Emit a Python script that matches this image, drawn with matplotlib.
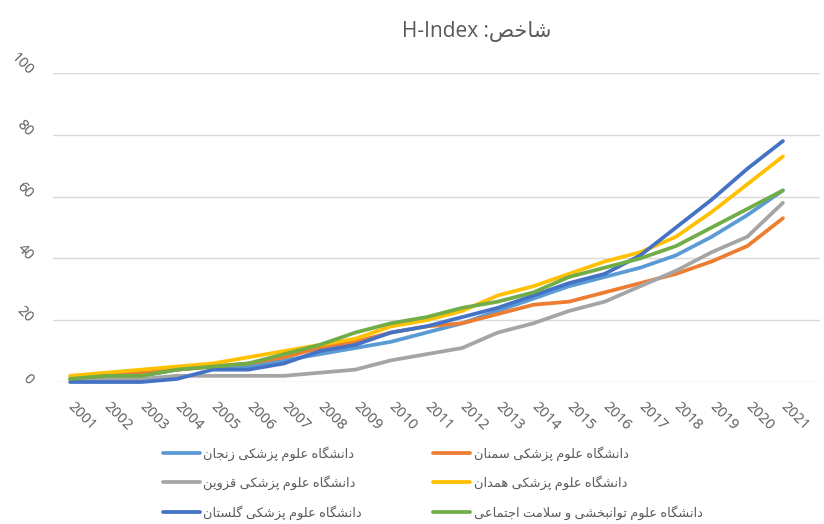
import matplotlib
matplotlib.use("Agg")
import matplotlib.pyplot as plt
from matplotlib.lines import Line2D

plt.rcParams['font.family'] = ['Open Sans', 'DejaVu Sans']

years = [str(y) for y in range(2001, 2022)]

zanjan   = [1, 2, 2, 4, 5, 5, 7, 9, 11, 13, 16, 19, 23, 27, 31, 34, 37, 41, 47, 54, 62]
semnan   = [1, 2, 3, 4, 5, 6, 8, 11, 13, 16, 18, 19, 22, 25, 26, 29, 32, 35, 39, 44, 53]
qazvin   = [1, 1, 1, 2, 2, 2, 2, 3, 4, 7, 9, 11, 16, 19, 23, 26, 31, 36, 42, 47, 58]
hamedan  = [2, 3, 4, 5, 6, 8, 10, 12, 14, 18, 20, 23, 28, 31, 35, 39, 42, 47, 55, 64, 73]
golestan = [0, 0, 0, 1, 4, 4, 6, 10, 12, 16, 18, 21, 24, 28, 32, 35, 41, 50, 59, 69, 78]
rehab    = [1, 2, 2, 4, 5, 6, 9, 12, 16, 19, 21, 24, 26, 29, 34, 37, 40, 44, 50, 56, 62]

names = [
    "دانشگاه علوم پزشکی زنجان",
    "دانشگاه علوم پزشکی سمنان",
    "دانشگاه علوم پزشکی قزوین",
    "دانشگاه علوم پزشکی همدان",
    "دانشگاه علوم پزشکی گلستان",
    "دانشگاه علوم توانبخشی و سلامت اجتماعی",
]
title_word = "شاخص"
yticks = [0, 20, 40, 60, 80, 100]

colors = ['#5B9BD5', '#ED7D31', '#A5A5A5', '#FFC000', '#4472C4', '#70AD47']

# ---- minimal Arabic/Persian shaper (presentation forms + RTL) ----
FORMS = {
    'ا': ('\uFE8D', '\uFE8E', None, None),
    'ب': ('\uFE8F', '\uFE90', '\uFE91', '\uFE92'),
    'ت': ('\uFE95', '\uFE96', '\uFE97', '\uFE98'),
    'ج': ('\uFE9D', '\uFE9E', '\uFE9F', '\uFEA0'),
    'خ': ('\uFEA5', '\uFEA6', '\uFEA7', '\uFEA8'),
    'د': ('\uFEA9', '\uFEAA', None, None),
    'ز': ('\uFEAF', '\uFEB0', None, None),
    'س': ('\uFEB1', '\uFEB2', '\uFEB3', '\uFEB4'),
    'ش': ('\uFEB5', '\uFEB6', '\uFEB7', '\uFEB8'),
    'ص': ('\uFEB9', '\uFEBA', '\uFEBB', '\uFEBC'),
    'ع': ('\uFEC9', '\uFECA', '\uFECB', '\uFECC'),
    'ق': ('\uFED5', '\uFED6', '\uFED7', '\uFED8'),
    'ل': ('\uFEDD', '\uFEDE', '\uFEDF', '\uFEE0'),
    'م': ('\uFEE1', '\uFEE2', '\uFEE3', '\uFEE4'),
    'ن': ('\uFEE5', '\uFEE6', '\uFEE7', '\uFEE8'),
    'ه': ('\uFEE9', '\uFEEA', '\uFEEB', '\uFEEC'),
    'و': ('\uFEED', '\uFEEE', None, None),
    'ی': ('\uFBFC', '\uFBFD', '\uFBFE', '\uFBFF'),
    'پ': ('\uFB56', '\uFB57', '\uFB58', '\uFB59'),
    'ک': ('\uFB8E', '\uFB8F', '\uFB90', '\uFB91'),
    'گ': ('\uFB92', '\uFB93', '\uFB94', '\uFB95'),
}


def shape(s):
    ch = list(s)
    n = len(ch)
    out = []
    i = 0

    def dual(c):
        return c in FORMS and FORMS[c][2] is not None

    while i < n:
        c = ch[i]
        if c not in FORMS:
            out.append(c)
            i += 1
            continue
        prev = ch[i - 1] if i > 0 else None
        jp = dual(prev)
        if c == 'ل' and i + 1 < n and ch[i + 1] == 'ا':
            out.append('\uFEFC' if jp else '\uFEFB')
            i += 2
            continue
        nxt = ch[i + 1] if i + 1 < n else None
        jn = dual(c) and (nxt in FORMS)
        iso, fin, ini, med = FORMS[c]
        if jp and jn:
            g = med
        elif jp:
            g = fin
        elif jn:
            g = ini
        else:
            g = iso
        out.append(g)
        i += 1
    return ''.join(reversed(out))


W, H = 824, 524
fig = plt.figure(figsize=(W / 100, H / 100), dpi=100)
ax = fig.add_axes([53 / W, (H - 382) / H, (820 - 53) / W, (382 - 73) / H])

x = list(range(len(years)))
series = [zanjan, semnan, qazvin, hamedan, golestan, rehab]
handles = []
for vals, col, nm in zip(series, colors, names):
    ax.plot(x, vals, color=col, lw=2.7, solid_capstyle='round',
            solid_joinstyle='round', clip_on=False, zorder=3)
    handles.append(Line2D([], [], color=col, lw=2.7, solid_capstyle='round',
                          label=shape(nm)))

ax.set_ylim(0, 100)
ax.set_xlim(-0.48, 21.04)
ax.set_yticks(yticks)
ax.set_xticks(x)
ax.set_xticklabels(years)
ax.yaxis.grid(True, color='#D9D9D9', lw=1.0)
ax.set_axisbelow(True)
for sp in ax.spines.values():
    sp.set_visible(False)
ax.tick_params(axis='both', length=0, colors='#595959', labelsize=10.5)
ax.tick_params(axis='y', pad=16)
ax.tick_params(axis='x', pad=16)
for lb in ax.get_yticklabels():
    lb.set_rotation(-45)
    lb.set_rotation_mode('anchor')
    lb.set_ha('right')
    lb.set_va('center')
for lb in ax.get_xticklabels():
    lb.set_rotation(-45)
    lb.set_rotation_mode('anchor')
    lb.set_ha('left')
    lb.set_va('center')

fig.text(477 / W, 1 - 31 / H, "H-Index :" + shape(title_word), ha='center',
         va='center', fontsize=15, color='#595959')

order = [0, 2, 4, 1, 3, 5]
leg = fig.legend([handles[k] for k in order], [handles[k].get_label() for k in order],
                 ncol=2, loc='upper left', bbox_to_anchor=(163 / W, 1 - 446 / H),
                 frameon=False, fontsize=9.4, handlelength=2.85, handletextpad=0.25,
                 columnspacing=5.45, labelspacing=1.12, borderpad=0, borderaxespad=0)
for t in leg.get_texts():
    t.set_color('#595959')

fig.savefig('out.png', dpi=100)
